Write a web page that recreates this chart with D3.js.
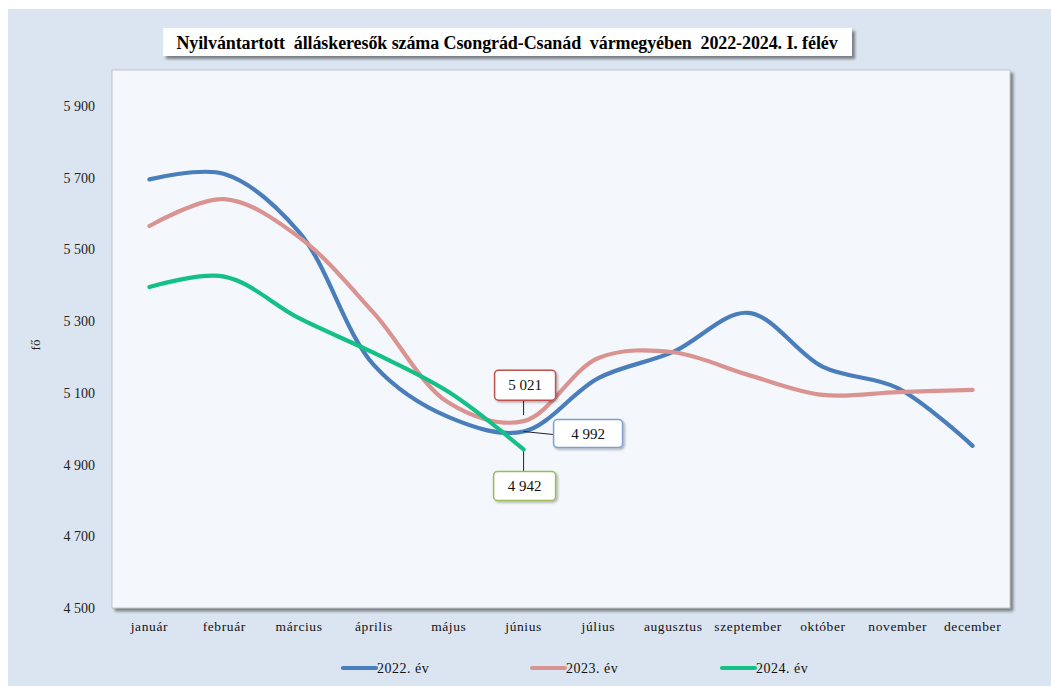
<!DOCTYPE html>
<html>
<head>
<meta charset="utf-8">
<script src="https://cdn.jsdelivr.net/npm/d3@7"></script>
<style>
  html, body { margin: 0; padding: 0; background: #ffffff; }
  svg { display: block; }
</style>
</head>
<body>
<svg id="chart" width="1051" height="686"></svg>
<script>
const months = ["január","február","március","április","május","június","július","augusztus","szeptember","október","november","december"];
const series2022 = [5695, 5710, 5548, 5177, 5032, 4992, 5141, 5214, 5323, 5172, 5113, 4952];
const series2023 = [5565, 5640, 5534, 5322, 5072, 5021, 5197, 5213, 5150, 5094, 5102, 5108];
const series2024 = [5395, 5424, 5308, 5211, 5102, 4942];
const seriesNames = ["2022. év", "2023. év", "2024. év"];
const yTicks = [4500, 4700, 4900, 5100, 5300, 5500, 5700, 5900];
const titleText = "Nyilvántartott  álláskeresők száma Csongrád-Csanád  vármegyében  2022-2024. I. félév";
const yTitle = "fő";

const colors = ["#4a7ebb", "#d99391", "#14c086"];
const boxBorders = ["#7b9fd0", "#c0504d", "#9bbb59"];
const allSeries = [series2022, series2023, series2024];

const svg = d3.select("#chart");
const defs = svg.append("defs");
const sh = defs.append("filter").attr("id", "shadow").attr("x", "-5%").attr("y", "-5%").attr("width", "115%").attr("height", "120%");
sh.append("feDropShadow").attr("dx", 3).attr("dy", 3).attr("stdDeviation", 1.5).attr("flood-color", "#000").attr("flood-opacity", 0.45);
const sh2 = defs.append("filter").attr("id", "shadow2").attr("x", "-10%").attr("y", "-10%").attr("width", "130%").attr("height", "140%");
sh2.append("feDropShadow").attr("dx", 1.5).attr("dy", 1.5).attr("stdDeviation", 1).attr("flood-color", "#000").attr("flood-opacity", 0.3);

// outer panel
svg.append("rect").attr("x", 8).attr("y", 9).attr("width", 1043).attr("height", 677).attr("fill", "#dbe5f1");

const plot = { left: 112, top: 70, right: 1010, bottom: 608 };

// plot area
svg.append("rect")
  .attr("x", plot.left).attr("y", plot.top)
  .attr("width", plot.right - plot.left).attr("height", plot.bottom - plot.top)
  .attr("fill", "#f4f7fb").attr("stroke", "#b0b0b0").attr("stroke-width", 0.7)
  .attr("filter", "url(#shadow)");

const x = d3.scaleBand().domain(months).range([plot.left, plot.right]).padding(0);
const y = d3.scaleLinear().domain([4500, 6000]).range([plot.bottom, plot.top]);
const fmt = v => d3.format(",")(v).replace(/,/g, " ");
const cx = m => x(m) + x.bandwidth() / 2;

// y axis
const yAxis = svg.append("g").attr("transform", `translate(${plot.left - 14},0)`)
  .call(d3.axisLeft(y).tickValues(yTicks).tickSize(0).tickFormat(fmt));
yAxis.select(".domain").remove();
yAxis.selectAll("text").attr("font-family", "'Liberation Serif', 'Times New Roman', serif")
  .attr("font-size", 14).attr("fill", "#222");

// x axis
const xAxis = svg.append("g").attr("transform", `translate(0,${plot.bottom + 10})`)
  .call(d3.axisBottom(x).tickSize(0));
xAxis.select(".domain").remove();
xAxis.selectAll("text").attr("font-family", "'Liberation Serif', 'Times New Roman', serif")
  .attr("font-size", 13.5).attr("fill", "#111").attr("letter-spacing", 0.6);

// y title
svg.append("text").attr("transform", "translate(40,345) rotate(-90)")
  .attr("text-anchor", "middle")
  .attr("font-family", "'Liberation Serif', 'Times New Roman', serif")
  .attr("font-size", 13).attr("fill", "#222").text(yTitle);

// lines
const line = d3.line().x((d, i) => cx(months[i])).y(d => y(d)).curve(d3.curveCatmullRom.alpha(0.5));
allSeries.forEach((s, k) => {
  svg.append("path").datum(s).attr("d", line)
    .attr("fill", "none").attr("stroke", colors[k]).attr("stroke-width", 4.2)
    .attr("stroke-linecap", "round").attr("stroke-linejoin", "round");
});

// callouts for June values
const jIdx = 5;
const jx = cx(months[jIdx]);
const callouts = [
  { s: 1, bx: -29, by: -51, w: 61, h: 30, lx1: 0, ly1: -6, lx2: 0, ly2: -21 },
  { s: 0, bx: 30, by: -12, w: 69, h: 28, lx1: 0, ly1: 0, lx2: 30, ly2: 3 },
  { s: 2, bx: -30, by: 22, w: 62, h: 29, lx1: 0, ly1: 2, lx2: 0, ly2: 22 }
];
callouts.forEach(c => {
  const v = allSeries[c.s][jIdx];
  const py = y(v);
  svg.append("line").attr("x1", jx + c.lx1).attr("y1", py + c.ly1).attr("x2", jx + c.lx2).attr("y2", py + c.ly2)
    .attr("stroke", "#222").attr("stroke-width", 1);
  svg.append("rect").attr("x", jx + c.bx).attr("y", py + c.by).attr("width", c.w).attr("height", c.h)
    .attr("rx", 4).attr("fill", "#ffffff").attr("stroke", boxBorders[c.s]).attr("stroke-width", 1.5)
    .attr("filter", "url(#shadow2)");
  svg.append("text").attr("x", jx + c.bx + c.w / 2).attr("y", py + c.by + c.h / 2 + 5)
    .attr("text-anchor", "middle")
    .attr("font-family", "'Liberation Serif', 'Times New Roman', serif")
    .attr("font-size", 15).attr("fill", "#111").text(fmt(v));
});

// title
const tg = svg.append("g");
tg.append("rect").attr("x", 163).attr("y", 28).attr("width", 689).attr("height", 28)
  .attr("fill", "#ffffff").attr("filter", "url(#shadow)");
tg.append("text").attr("x", 507).attr("y", 48.5).attr("text-anchor", "middle")
  .attr("font-family", "'Liberation Serif', 'Times New Roman', serif")
  .attr("font-weight", "bold").attr("font-size", 18).attr("fill", "#000")
  .attr("letter-spacing", -0.1)
  .attr("xml:space", "preserve").style("white-space", "pre").text(titleText);

// legend
const legendX = [343, 532, 722];
seriesNames.forEach((n, k) => {
  const g = svg.append("g").attr("transform", `translate(${legendX[k]},668)`);
  g.append("line").attr("x1", 0).attr("x2", 33).attr("y1", 0).attr("y2", 0)
    .attr("stroke", colors[k]).attr("stroke-width", 4.2).attr("stroke-linecap", "round");
  g.append("text").attr("x", 34).attr("y", 5)
    .attr("font-family", "'Liberation Serif', 'Times New Roman', serif")
    .attr("font-size", 14).attr("fill", "#111").attr("letter-spacing", 0.5).text(n);
});
</script>
</body>
</html>
